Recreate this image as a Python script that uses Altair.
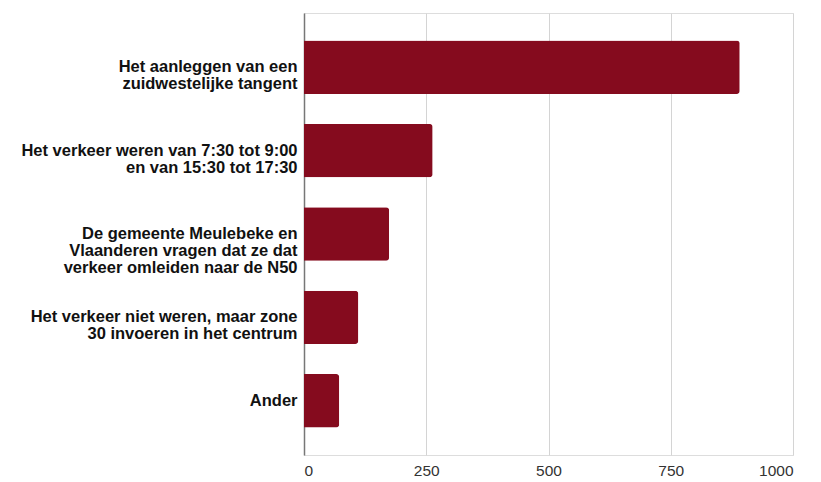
import altair as alt
import pandas as pd

categories = [
    "Het aanleggen van een|zuidwestelijke tangent",
    "Het verkeer weren van 7:30 tot 9:00|en van 15:30 tot 17:30",
    "De gemeente Meulebeke en|Vlaanderen vragen dat ze dat|verkeer omleiden naar de N50",
    "Het verkeer niet weren, maar zone|30 invoeren in het centrum",
    "Ander",
]
values = [891, 263, 174, 111, 72]
x_ticks = [0, 250, 500, 750, 1000]

df = pd.DataFrame({"cat": categories, "val": values})

chart = alt.Chart(df).mark_bar(color="#850b1e", cornerRadiusEnd=3).encode(
    y=alt.Y(
        "cat:N",
        sort=categories,
        title=None,
        scale=alt.Scale(paddingInner=0.36, paddingOuter=0.33),
        axis=alt.Axis(
            labelExpr="split(datum.label, '|')",
            labelFont="Liberation Sans",
            labelFontWeight="bold",
            labelFontSize=16.5,
            labelColor="#111111",
            labelLineHeight=17,
            labelPadding=7,
            ticks=False,
            domain=True,
            domainColor="#777777",
            domainWidth=1.5,
            grid=False,
            labelLimit=400,
        ),
    ),
    x=alt.X(
        "val:Q",
        title=None,
        scale=alt.Scale(domain=[0, 1000], nice=False),
        axis=alt.Axis(
            values=x_ticks,
            format="d",
            grid=True,
            gridColor="#d4d4d4",
            gridWidth=1,
            domain=False,
            ticks=False,
            labelFont="Liberation Sans",
            labelFontSize=15.5,
            labelColor="#333333",
            labelPadding=8,
        ),
    ),
).properties(
    width=489,
    height=442,
    autosize=alt.AutoSizeParams(type="none"),
    padding={"left": 296, "top": 5, "right": 20, "bottom": 27},
).configure_view(stroke=None).configure(background="white")

chart.save("out.html", embed_options={"renderer": "svg", "actions": False})
